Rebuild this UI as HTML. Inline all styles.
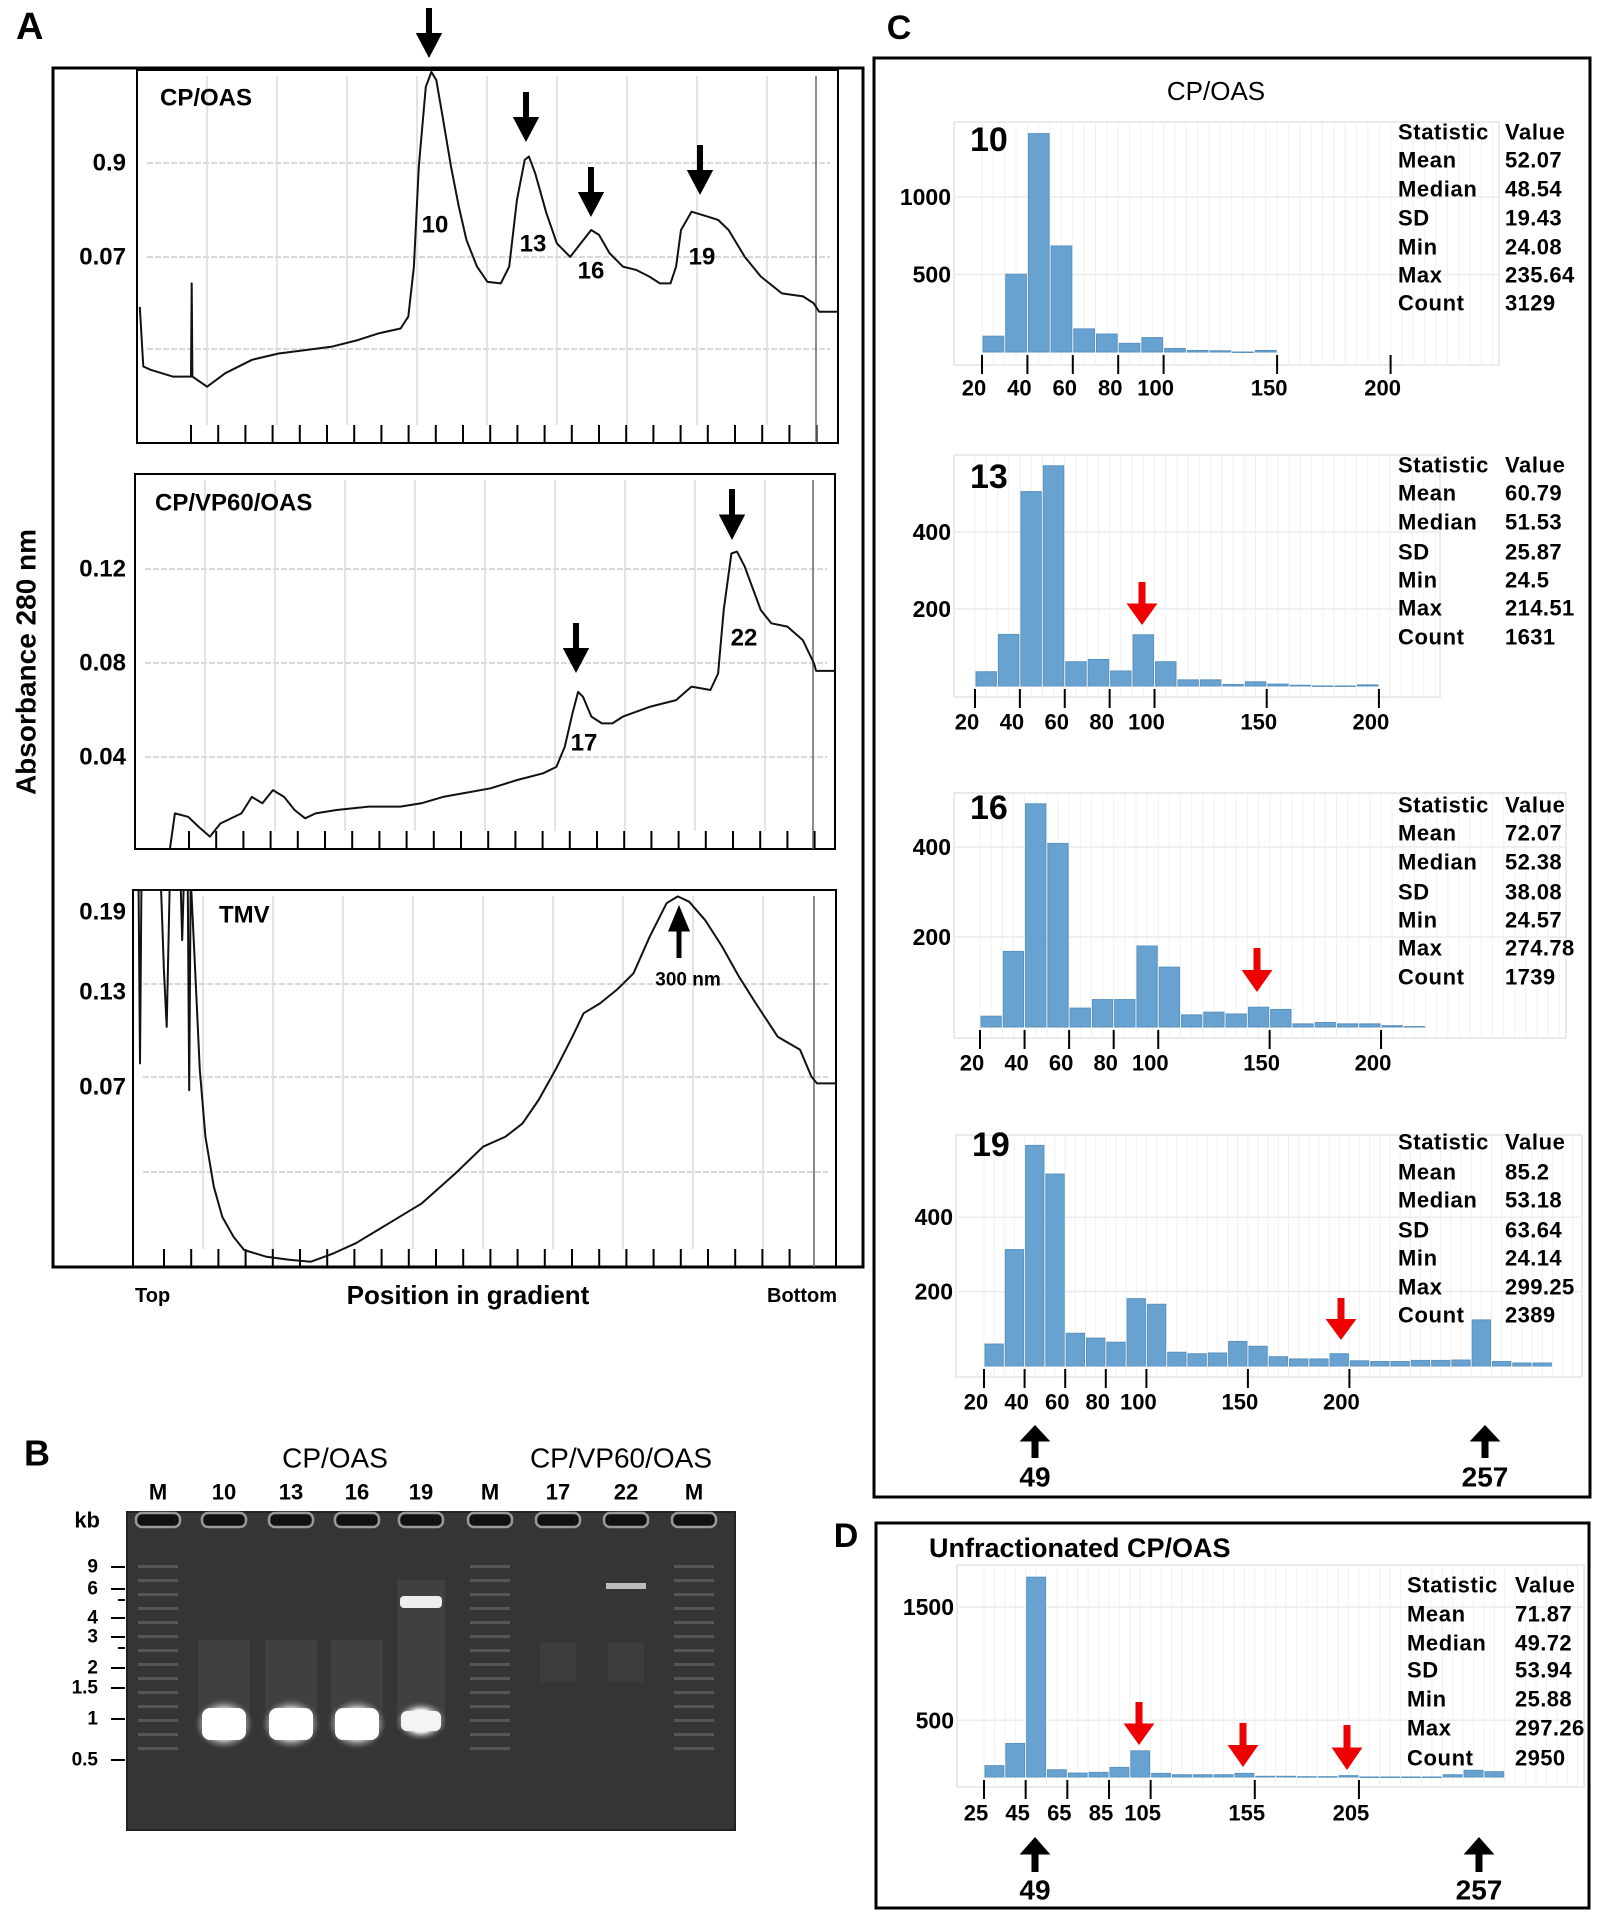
<!DOCTYPE html>
<html><head><meta charset="utf-8"><style>
html,body{margin:0;padding:0;background:#fff;}
svg{display:block;font-family:"Liberation Sans",Arial,sans-serif;}
</style></head><body>
<svg id="fig" width="1606" height="1922" viewBox="0 0 1606 1922" xmlns="http://www.w3.org/2000/svg">
<defs>
<radialGradient id="glow" cx="50%" cy="50%" r="50%"><stop offset="0" stop-color="#fff"/><stop offset="0.55" stop-color="#f4f4f4"/><stop offset="1" stop-color="#555" stop-opacity="0"/></radialGradient>
</defs>
<g id="panelA"></g>
<g id="panelB"></g>
<g id="panelC"></g>
<g id="panelD"></g>
</svg>
<script>
// ===== Panel A data (position in gradient %, relative absorbance %) =====
const cpOasPos = [0.4,0.9,2.0,5.1,7.7,7.8,7.9,10.0,12.6,16.4,20.2,24.0,27.7,31.5,34.5,37.6,38.7,39.5,40.2,41.2,42.0,42.7,43.6,44.8,45.9,47.0,48.5,50.0,51.9,53.1,54.2,55.3,55.9,56.8,58.4,59.9,61.8,63.3,64.8,65.9,67.4,69.3,71.2,73.1,74.6,76.1,76.9,77.6,79.1,81.4,82.9,84.4,86.7,89.0,92.0,95.0,96.5,97.3,99.9];
const cpOasAbs = [36.5,20.5,19.6,17.8,17.8,42.8,17.8,15.1,18.7,22.3,24.0,24.9,25.8,27.6,29.4,30.7,33.9,47.3,74.1,95.5,99.5,97.3,87.5,74.1,63.4,54.4,47.3,43.2,42.8,47.3,65.1,75.9,76.8,72.3,61.6,53.5,49.9,53.5,57.1,55.8,50.9,47.3,46.4,44.6,42.8,42.8,47.3,57.1,62.0,60.7,59.8,57.1,49.9,44.6,40.1,39.3,37.5,35.2,35.2];
const vp60Pos = [5.0,5.7,7.6,9.1,10.7,12.2,15.2,16.7,18.2,19.7,21.3,22.8,24.3,25.8,28.8,33.4,37.9,40.9,44.0,47.0,50.8,54.6,58.3,60.2,61.4,62.5,63.3,64.0,65.2,66.7,68.2,69.7,73.5,77.3,79.5,82.2,83.3,84.1,85.2,86.0,87.1,89.4,90.9,93.2,95.4,97.0,97.3,100];
const vp60Abs = [0.2,9.5,8.6,5.9,3.3,6.8,9.5,13.9,12.2,15.7,13.9,10.4,8.2,9.5,10.4,11.3,11.3,12.2,13.9,14.9,16.2,18.4,20.2,21.9,27.3,36.2,41.9,40.6,35.3,33.5,33.5,35.3,37.9,39.7,43.3,42.4,46.8,63.7,78.8,79.3,75.3,63.7,60.2,59.3,55.7,49.5,47.5,47.5];
const tmvPos = [0.8,1.0,1.2,4.0,4.4,4.8,5.2,6.8,7.0,7.2,7.8,8.0,8.2,8.3,8.7,9.5,10.3,11.5,12.7,14.3,15.8,19.0,22.2,25.3,28.5,31.7,36.4,41.1,45.9,49.8,53.0,55.4,57.7,60.1,62.5,64.1,66.4,68.8,71.2,73.5,75.9,77.5,79.1,81.4,83.8,86.2,88.6,91.7,94.9,96.5,97.3,100];
const tmvAbs = [100,54.0,100,100,78.8,63.7,100,100,86.7,100,100,46.9,100,100,84.1,52.3,34.6,21.3,13.3,8.0,4.5,2.7,1.9,1.4,3.6,6.3,11.6,16.9,24.9,31.9,34.6,38.1,44.3,52.3,61.1,67.3,69.9,73.5,77.9,87.6,96.5,98.3,96.9,92.0,85.0,77.0,69.9,61.1,57.6,50.5,48.7,48.7];

// ===== Panel C / D histogram data =====
const h10Counts = [102,502,1409,684,149,116,56,93,23,10,8,0,10];
const h13Counts = [37,134,505,572,63,69,39,133,63,16,16,4,11,5,2,0,0,3];
const h16Counts = [24,168,496,408,42,61,61,180,133,27,33,29,44,39,7,10,7,7,3,1];
const h19Counts = [59,313,593,516,88,75,64,181,166,37,33,35,66,53,25,19,19,33,14,12,12,15,15,16,124,12,8,8];
const hDCounts = [100,296,1764,64,35,41,85,231,32,20,20,20,32,6,6,3,3,12,0,0,0,0,20,59,47];
const xTicksC = [20,40,60,80,100,150,200];
const xTicksD = [25,45,65,85,105,155,205];
const yTicks10 = [500,1000];
const yTicks13 = [200,400];
const yTicks16 = [200,400];
const yTicks19 = [200,400];
const yTicksD = [500,1500];
const statNames = ["Mean","Median","SD","Min","Max","Count"];
const stats10 = ["52.07","48.54","19.43","24.08","235.64","3129"];
const stats13 = ["60.79","51.53","25.87","24.5","214.51","1631"];
const stats16 = ["72.07","52.38","38.08","24.57","274.78","1739"];
const stats19 = ["85.2","53.18","63.64","24.14","299.25","2389"];
const statsD = ["71.87","49.72","53.94","25.88","297.26","2950"];

const NS="http://www.w3.org/2000/svg";
function mk(parent,tag,attrs,txt){const e=document.createElementNS(NS,tag);for(const k in attrs)e.setAttribute(k,attrs[k]);if(txt!==undefined)e.textContent=txt;parent.appendChild(e);return e;}
function txt(parent,x,y,s,size,anchor,name,weight,fam){const t=mk(parent,'text',{x:x,y:y,'font-size':size,'text-anchor':anchor||'start','dominant-baseline':'central','font-weight':weight||'bold'},s);if(fam)t.setAttribute('font-family',fam);


return t;}
function downArrow(p,x,y1,y2,color,w,name){const g=mk(p,'g',{});


const hw=w||5;mk(g,'rect',{x:x-hw/2,y:y1,width:hw,height:(y2-y1)*0.55,fill:color});mk(g,'polygon',{points:`${x-hw*2.2},${y1+(y2-y1)*0.5} ${x+hw*2.2},${y1+(y2-y1)*0.5} ${x},${y2}`,fill:color});return g;}
function upArrow(p,x,yHead,yTail,color,w,name){const g=mk(p,'g',{});


const hw=w||5;const L=yTail-yHead;mk(g,'rect',{x:x-hw/2,y:yHead+L*0.45,width:hw,height:L*0.55,fill:color});mk(g,'polygon',{points:`${x-hw*2.2},${yHead+L*0.5} ${x+hw*2.2},${yHead+L*0.5} ${x},${yHead}`,fill:color});return g;}

// ================= PANEL A =================
const A=document.getElementById('panelA');
txt(A,16,27,'A',38,'start','panel-a-letter');
mk(A,'rect',{x:53,y:68,width:810,height:1199,fill:'none',stroke:'#000','stroke-width':3});
const yTitle=txt(A,26,662,'Absorbance 280 nm',28,'middle','y-axis-title');yTitle.setAttribute('transform','rotate(-90 26 662)');
function trace(box,pos,abs,gridY,labels,name,title,titlePos){
  const g=mk(A,'g',{});
  
  
  const xS=v=>box.x+box.w*v/100, yS=v=>box.y+box.h-box.h*v/100;
  for(let i=1;i<=9;i++){const gx=box.x+70*i;mk(g,'line',{x1:gx,y1:box.y+6,x2:gx,y2:box.y+box.h-18,stroke:'#dcdcdc','stroke-width':1.5});}
  gridY.forEach((gy,i)=>{mk(g,'line',{x1:box.x+10,y1:gy,x2:box.x+box.w-8,y2:gy,stroke:'#d8d8d8','stroke-width':2,'stroke-dasharray':'6 2'});});
  labels.forEach(l=>{txt(g,126,l[1],l[0],24,'end','y-tick-label');});
  mk(g,'rect',{x:box.x,y:box.y,width:box.w,height:box.h,fill:'none',stroke:'#000','stroke-width':2});
  for(let i=0;i<24;i++){const tx=box.tick0+27.2*i;mk(g,'line',{x1:tx,y1:box.y+box.h-18,x2:tx,y2:box.y+box.h,stroke:'#000','stroke-width':2});}
  mk(g,'line',{x1:box.x+box.w-22,y1:box.y+6,x2:box.x+box.w-22,y2:box.y+box.h,stroke:'#666','stroke-width':1.5});
  let d='';pos.forEach((p,i)=>{d+=(i?'L':'M')+xS(p).toFixed(1)+','+yS(abs[i]).toFixed(1);});
  const path=mk(g,'path',{d:d,fill:'none',stroke:'#111','stroke-width':2,'stroke-linejoin':'round'});
  
  
  txt(g,titlePos[0],titlePos[1],title,24,'start',name+'-title');
  return g;
}
trace({x:137,y:70,w:701,h:373,tick0:191},cpOasPos,cpOasAbs,[163,257,349],[['0.9',163],['0.07',257]],'trace-cp-oas','CP/OAS',[160,98]);
trace({x:135,y:474,w:700,h:375,tick0:189},vp60Pos,vp60Abs,[569,663,757],[['0.12',569],['0.08',663],['0.04',757]],'trace-cp-vp60-oas','CP/VP60/OAS',[155,503]);
trace({x:133,y:890,w:703,h:377,tick0:164},tmvPos,tmvAbs,[984,1077,1172],[['0.19',912],['0.13',992],['0.07',1087]],'trace-tmv','TMV',[219,915]);
[[429,8,58],[526,92,142],[591,167,217],[700,145,195],[576,623,673],[732,489,540]].forEach((a,i)=>downArrow(A,a[0],a[1],a[2],'#000',6,'peak-arrow'));
[['10',435,225],['13',533,244],['16',591,271],['19',702,257],['17',584,743],['22',744,638]].forEach(l=>txt(A,l[1],l[2],l[0],24,'middle','fraction-label'));
upArrow(A,679,905,958,'#000',5,'tmv-peak-arrow');
txt(A,688,980,'300 nm',19,'middle','tmv-size-label');
txt(A,135,1296,'Top',20,'start','x-axis-top-label');
txt(A,468,1295,'Position in gradient',26,'middle','x-axis-title');
txt(A,837,1296,'Bottom',20,'end','x-axis-bottom-label');

// ================= PANEL B (gel) =================
const B=document.getElementById('panelB');
txt(B,24,1453,'B',36,'start','panel-b-letter');
txt(B,335,1458,'CP/OAS',28,'middle','gel-group-cp-oas','normal');
txt(B,621,1458,'CP/VP60/OAS',28,'middle','gel-group-cp-vp60-oas','normal');
const laneNames=['M','10','13','16','19','M','17','22','M'];
const laneX=[158,224,291,357,421,490,558,626,694];
mk(B,'rect',{x:127,y:1512,width:608,height:318,fill:'#353535'});
mk(B,'rect',{x:127,y:1512,width:608,height:318,fill:'none',stroke:'#222','stroke-width':2});
laneNames.forEach((n,i)=>{txt(B,laneX[i],1492,n,22,'middle','lane-label');
 const w=mk(B,'rect',{x:laneX[i]-22,y:1513,width:44,height:14,rx:6,fill:'#111',stroke:'#999','stroke-width':2.5});
 
 });
txt(B,100,1520,'kb',22,'end','kb-label');
[['9',1567],['6',1589],['4',1618],['3',1637],['2',1668],['1.5',1688],['1',1719],['0.5',1760]].forEach(k=>{txt(B,98,k[1],k[0],19,'end','kb-marker');mk(B,'line',{x1:111,y1:k[1],x2:125,y2:k[1],stroke:'#000','stroke-width':2});});
[1600,1648].forEach(y=>mk(B,'line',{x1:118,y1:y,x2:125,y2:y,stroke:'#000','stroke-width':2}));
[0,5,8].forEach(i=>{for(let j=0;j<14;j++){mk(B,'rect',{x:laneX[i]-20,y:1565+j*14,width:40,height:3,fill:'#5e5e5e',opacity:0.8});}});
[1,2,3].forEach(i=>{mk(B,'rect',{x:laneX[i]-26,y:1640,width:52,height:90,fill:'#404040'});mk(B,'ellipse',{cx:laneX[i],cy:1724,rx:30,ry:26,fill:'url(#glow)'});mk(B,'rect',{x:laneX[i]-22,y:1708,width:44,height:32,rx:8,fill:'#fff'});});
mk(B,'rect',{x:laneX[4]-24,y:1580,width:48,height:150,fill:'#404040'});
mk(B,'ellipse',{cx:laneX[4],cy:1721,rx:26,ry:20,fill:'url(#glow)'});
mk(B,'rect',{x:laneX[4]-20,y:1711,width:40,height:20,rx:6,fill:'#f4f4f4'});
mk(B,'rect',{x:laneX[4]-21,y:1596,width:42,height:12,rx:4,fill:'#eee'});
mk(B,'rect',{x:laneX[7]-20,y:1583,width:40,height:6,fill:'#bbb'});
[6,7].forEach(i=>mk(B,'rect',{x:laneX[i]-18,y:1642,width:36,height:40,fill:'#3c3c3c'}));

// ================= PANEL C / D histograms =================
const C=document.getElementById('panelC'), D=document.getElementById('panelD');
txt(C,899,28,'C',34,'middle','panel-c-letter');
mk(C,'rect',{x:874,y:58,width:716,height:1439,fill:'none',stroke:'#000','stroke-width':3});
txt(C,1216,91,'CP/OAS',26,'middle','panel-c-title','normal');
function hist(parent,cfg,counts,yTicks,xTicks,stats,name){
  const g=mk(parent,'g',{});
  
  
  const xS=v=>cfg.x0+(v-cfg.v0)*cfg.ppu, yS=v=>cfg.base-v*cfg.vpu;
  mk(g,'rect',{x:cfg.bx,y:cfg.by,width:cfg.bw,height:cfg.bh,fill:'#fff',stroke:'#e4e4e4','stroke-width':1.5});
  for(let v=cfg.v0;xS(v)<cfg.bx+cfg.bw;v+=5){mk(g,'line',{x1:xS(v),y1:cfg.by,x2:xS(v),y2:cfg.by+cfg.bh,stroke:'#f1f1f1','stroke-width':1});}
  yTicks.forEach(t=>{mk(g,'line',{x1:cfg.bx,y1:yS(t),x2:cfg.bx+cfg.bw,y2:yS(t),stroke:'#ececec','stroke-width':1.5});
    txt(g,cfg.bx-3,yS(t),String(t),23,'end','y-tick-label');});
  counts.forEach((c,i)=>{const x=xS(cfg.v0+i*10);const r=mk(g,'rect',{x:x+1,y:yS(c),width:10*cfg.ppu-2,height:Math.max(c*cfg.vpu,0.5),fill:'#67a2d1',stroke:'#5b93c0','stroke-width':1});
    
    });
  xTicks.forEach(t=>{mk(g,'line',{x1:xS(t),y1:cfg.base+3,x2:xS(t),y2:cfg.base+22,stroke:'#000','stroke-width':2});
    txt(g,xS(t)-8,cfg.base+36,String(t),22,'middle','x-tick-label');});
  if(cfg.label)txt(g,cfg.bx+16,cfg.labelY,cfg.label,34,'start','fraction-number');
  txt(g,cfg.sx,cfg.sy[0],'Statistic',22,'start','stats-header').setAttribute('letter-spacing','0.6');
  txt(g,cfg.vx,cfg.sy[0],'Value',22,'start','stats-header').setAttribute('letter-spacing','0.6');
  statNames.forEach((s,i)=>{txt(g,cfg.sx,cfg.sy[i+1],s,22,'start','stat-name').setAttribute('letter-spacing','0.6');txt(g,cfg.vx,cfg.sy[i+1],stats[i],22,'start','stat-value').setAttribute('letter-spacing','0.4');});
  return g;
}
hist(C,{x0:982,v0:20,ppu:2.27,base:352,vpu:0.155,bx:954,by:122,bw:545,bh:243,label:'10',labelY:140,sx:1398,vx:1505,sy:[132,160,189,218,247,275,303]},h10Counts,yTicks10,xTicksC,stats10,'histogram-fraction-10');
hist(C,{x0:975,v0:20,ppu:2.244,base:686,vpu:0.385,bx:954,by:455,bw:486,bh:242,label:'13',labelY:477,sx:1398,vx:1505,sy:[465,493,522,552,580,608,637]},h13Counts,yTicks13,xTicksC,stats13,'histogram-fraction-13');
hist(C,{x0:980,v0:20,ppu:2.228,base:1027,vpu:0.45,bx:954,by:793,bw:612,bh:245,label:'16',labelY:808,sx:1398,vx:1505,sy:[805,833,862,892,920,948,977]},h16Counts,yTicks16,xTicksC,stats16,'histogram-fraction-16');
hist(C,{x0:984,v0:20,ppu:2.03,base:1366,vpu:0.372,bx:956,by:1135,bw:626,bh:242,label:'19',labelY:1145,sx:1398,vx:1505,sy:[1142,1172,1200,1230,1258,1287,1315]},h19Counts,yTicks19,xTicksC,stats19,'histogram-fraction-19');
downArrow(C,1142,582,625,'#e00',7,'red-arrow');
downArrow(C,1257,948,992,'#e00',7,'red-arrow');
downArrow(C,1341,1298,1340,'#e00',7,'red-arrow');
upArrow(C,1035,1425,1458,'#000',7,'black-arrow-49');
upArrow(C,1485,1425,1458,'#000',7,'black-arrow-257');
txt(C,1035,1477,'49',28,'middle','size-label-49');
txt(C,1485,1477,'257',28,'middle','size-label-257');

txt(D,846,1536,'D',34,'middle','panel-d-letter');
mk(D,'rect',{x:876,y:1523,width:713,height:385,fill:'none',stroke:'#000','stroke-width':3});
txt(D,929,1548,'Unfractionated  CP/OAS',27,'start','panel-d-title');
hist(D,{x0:984,v0:25,ppu:2.083,base:1777,vpu:0.1133,bx:957,by:1565,bw:627,bh:222,label:'',sx:1407,vx:1515,sy:[1585,1614,1643,1670,1699,1728,1758]},hDCounts,yTicksD,xTicksD,statsD,'histogram-unfractionated');
downArrow(D,1139,1702,1745,'#e00',7,'red-arrow');
downArrow(D,1243,1723,1767,'#e00',7,'red-arrow');
downArrow(D,1347,1725,1770,'#e00',7,'red-arrow');
upArrow(D,1035,1837,1872,'#000',7,'black-arrow-49');
upArrow(D,1479,1837,1872,'#000',7,'black-arrow-257');
txt(D,1035,1890,'49',28,'middle','size-label-49');
txt(D,1479,1890,'257',28,'middle','size-label-257');
</script>
</body></html>
